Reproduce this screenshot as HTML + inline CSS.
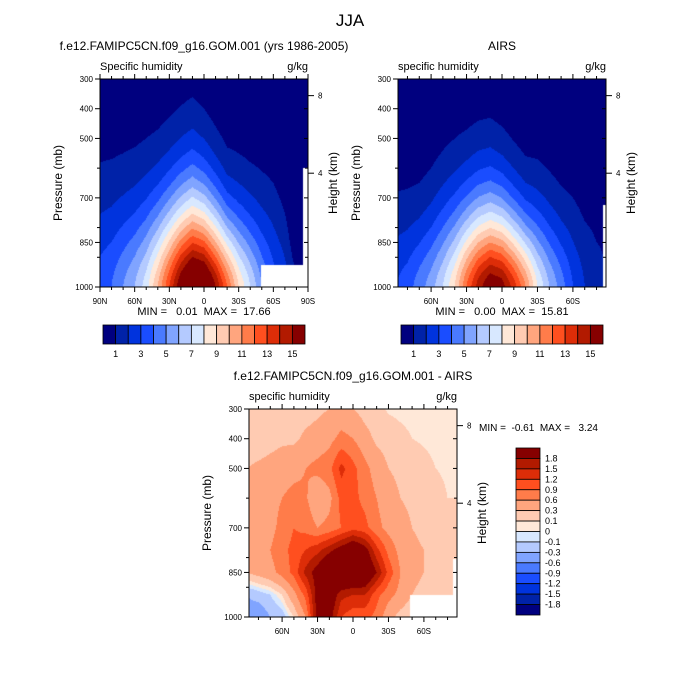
<!DOCTYPE html>
<html><head><meta charset="utf-8">
<style>
html,body{margin:0;padding:0;background:#fff;}
#root{position:relative;width:700px;height:700px;overflow:hidden;font-family:"Liberation Sans",sans-serif;}
canvas{position:absolute;left:0;top:0;}
svg{position:absolute;left:0;top:0;}
svg text{white-space:pre;}
</style></head>
<body>
<div id="root">
<canvas id="cv" width="700" height="700"></canvas>
<svg id="sv" width="700" height="700"></svg>
</div>
<script>
// ---- data ----
const colors = ["#00007f","#0022a8","#0033dd","#1a4dff","#4a7aff","#80a4ff","#b4caff","#d8e8ff","#ffe8d8","#ffcbb2","#ffa57e","#ff7c4a","#ff4f1f","#dd2d08","#b21a00","#860000"];
const topLevels = [1,2,3,4,5,6,7,8,9,10,11,12,13,14,15];
const topTickLabels = ["1","3","5","7","9","11","13","15"];
const diffLevels = [-1.8,-1.5,-1.2,-0.9,-0.6,-0.3,-0.1,0,0.1,0.3,0.6,0.9,1.2,1.5,1.8];
const diffLabels = ["1.8","1.5","1.2","0.9","0.6","0.3","0.1","0","-0.1","-0.3","-0.6","-0.9","-1.2","-1.5","-1.8"];
const lats = [90,80,70,60,50,40,30,20,10,0,-10,-20,-30,-40,-50,-60,-70,-80,-90];
const modelQ0 = [3.5,4,5,6,7.5,10,13,16,18,17.5,15,12,9,7,5,3.5,2.5,1.5,0.9];
const modelP1 = [580,570,550,530,500,470,430,390,360,400,460,530,550,580,610,650,750,950,999];
const airsQ0 = [3,3.5,4.5,5.5,7,9,12,14.5,16,15.5,13.5,11,8,6,4.5,3,2,1.3,0.9];
const airsP1 = [680,670,650,600,540,500,470,440,430,460,510,560,570,610,660,700,780,850,900];
const diffP = [300,400,500,600,700,775,850,925,1000];
const diffGrid = [
 [.15,.15,.15,.2,.2,.2,.25,.3,.35,.3,.2,.15,.08,.06,.05,.05,.05,.05,.05],
 [.15,.15,.2,.25,.25,.35,.4,.5,.7,.6,.4,.25,.2,.15,.1,.08,.06,.05,.05],
 [.3,.35,.4,.45,.5,.6,.7,.8,1.3,1.0,.7,.45,.3,.25,.2,.15,.1,.08,.08],
 [.3,.4,.5,.6,.7,.65,.3,.5,1.0,1.0,.8,.6,.4,.3,.25,.2,.15,.1,.1],
 [.3,.4,.5,.7,.9,.8,.6,.7,.9,1.1,1.0,.7,.5,.4,.3,.25,.2,.1,.1],
 [.35,.45,.6,.8,1.0,1.2,1.4,1.7,2.0,2.3,2.0,1.3,.8,.5,.35,.3,.2,.15,.1],
 [.3,.4,.5,.7,1.0,1.6,2.0,2.5,2.6,2.5,2.4,1.8,1.1,.6,.4,.3,.25,.15,.1],
 [-.3,-.2,-.1,.1,.5,1.0,2.0,2.2,1.6,1.5,1.5,1.0,.7,.5,.3,.2,.1,.1,.1],
 [-.4,-.5,-.3,-.2,.1,.6,2.0,2.0,1.2,1.0,1.0,.8,.4,.2,.1,.1,.1,.1,.1]];

// ---- functions ----
function colIdx(v,levels){let i=0;while(i<levels.length&&v>=levels[i])i++;return i;}
function hex(c){return [parseInt(c.substr(1,2),16),parseInt(c.substr(3,2),16),parseInt(c.substr(5,2),16)];}
const rgb=colors.map(hex);
function qCol(q0,p1,p){
  let f=(1000-p)/Math.max(1000-p1,1);
  let l=Math.log(q0);
  let q=Math.exp(l*(1-Math.pow(f,1.5)));
  return Math.min(q,Math.max(q0,0.5));
}
function qAt(Q0,P1,lat,p){
  let t=(90-lat)/10;let i=Math.max(0,Math.min(17,Math.floor(t)));let w=t-i;
  return qCol(Q0[i],P1[i],p)*(1-w)+qCol(Q0[i+1],P1[i+1],p)*w;
}
function dAt(lat,p){
  let t=(90-lat)/10;let i=Math.max(0,Math.min(17,Math.floor(t)));let w=t-i;
  let j=0;while(j<diffP.length-2&&p>diffP[j+1])j++;
  let u=(p-diffP[j])/(diffP[j+1]-diffP[j]);
  let a=diffGrid[j][i]*(1-w)+diffGrid[j][i+1]*w;
  let b=diffGrid[j+1][i]*(1-w)+diffGrid[j+1][i+1]*w;
  return a*(1-u)+b*u;
}
const cv=document.getElementById('cv');const ctx=cv.getContext('2d');
const img=ctx.createImageData(700,700);
for(let k=0;k<img.data.length;k+=4){img.data[k]=255;img.data[k+1]=255;img.data[k+2]=255;img.data[k+3]=255;}
function put(x,y,c){let k=(y*700+x)*4;img.data[k]=c[0];img.data[k+1]=c[1];img.data[k+2]=c[2];}
function panel(x0,y0,latMax,fn,levels,mask){
  for(let y=y0;y<y0+208;y++)for(let x=x0;x<x0+208;x++){
    if(mask(x-x0,y-y0))continue;
    let lat=latMax-(x-x0+0.5)/208*2*latMax;
    let p=300+(y-y0+0.5)/208*700;
    put(x,y,rgb[colIdx(fn(lat,p),levels)]);
  }
}
panel(100,79,90,(l,p)=>qAt(modelQ0,modelP1,l,p),topLevels,(x,y)=>(x>=161&&y>=186)||(x>=203&&y>=89));
panel(398,79,88,(l,p)=>qAt(airsQ0,airsP1,l,p),topLevels,(x,y)=>(x>=205&&y>=126));
panel(249,409,88,dAt,diffLevels,(x,y)=>(x>=161&&y>=186)||(x>=204&&y>=150));
ctx.putImageData(img,0,0);

// ---- SVG annotations ----
const sv=document.getElementById('sv');const NS='http://www.w3.org/2000/svg';
function el(t,a,txt){const e=document.createElementNS(NS,t);for(const k in a)e.setAttribute(k,a[k]);if(txt!==undefined)e.textContent=txt;sv.appendChild(e);return e;}
function text(x,y,s,size,anchor,name,rot){
  const e=el('text',{x:x,y:y,'font-size':size,'text-anchor':anchor||'start',fill:'#000'},s);
  
  
  if(rot)e.setAttribute('transform','rotate(-90 '+x+' '+y+')');
  return e;
}
function line(x1,y1,x2,y2,w){el('line',{x1,y1,x2,y2,stroke:'#000','stroke-width':w||1});}
text(350,26,'JJA',17,'middle','figure-title');
function axes(x0,y0,latMax,title,sub,mm,xlabels,name){
  el('rect',{x:x0,y:y0,width:208,height:208,fill:'none',stroke:'#000','stroke-width':1});
  text(x0+104,y0-29,title,12,'middle',name+'-title');
  text(x0,y0-9,sub,11,'start',name+'-subtitle');
  text(x0+208,y0-9,'g/kg',11,'end',name+'-units');
  const pl=[300,400,500,700,850,1000];
  pl.forEach(p=>{let y=y0+(p-300)/700*208;line(x0-5,y,x0,y);line(x0+208,y,x0+204,y);text(x0-7,y+3,String(p),8,'end',name+'-y-tick-'+p);});
  [600,800,900].forEach(p=>{let y=y0+(p-300)/700*208;line(x0-3,y,x0,y);line(x0+208,y,x0+205,y);});
  text(x0-38,y0+104,'Pressure (mb)',12,'middle',name+'-y-axis-title',true);
  [[8,356],[4,617]].forEach(h=>{let y=y0+(h[1]-300)/700*208;line(x0+208,y,x0+214,y);text(x0+218,y+3,String(h[0]),8,'start',name+'-height-tick-'+h[0]);});
  text(x0+237,y0+104,'Height (km)',12,'middle',name+'-height-axis-title',true);
  for(let l=-90;l<=90;l+=10){ if(Math.abs(l)>latMax)continue;
    let x=x0+(latMax-l)/(2*latMax)*208; let maj=(l%30===0);
    line(x,y0+208,x,y0+208+(maj?5:3));line(x,y0,x,y0-(maj?5:3));
    if(maj && xlabels){let s=l===0?'0':(Math.abs(l)+(l>0?'N':'S'));text(x,y0+225,s,8,'middle',name+'-x-tick-'+s);}
  }
  if(mm) text(x0+104,y0+236,mm,11,'middle',name+'-min-max');
}
axes(100,79,90,'f.e12.FAMIPC5CN.f09_g16.GOM.001 (yrs 1986-2005)','Specific humidity','MIN =   0.01  MAX =  17.66',true,'model-panel');
axes(398,79,88,'AIRS','specific humidity','MIN =   0.00  MAX =  15.81',true,'airs-panel');
axes(249,409,88,'f.e12.FAMIPC5CN.f09_g16.GOM.001 - AIRS','specific humidity',null,true,'diff-panel');
text(479,431,'MIN =  -0.61  MAX =   3.24',10,'start','diff-min-max');
function hbar(x0,y0,name){
  const w=202/16;
  colors.forEach((c,i)=>{const r=el('rect',{x:x0+i*w,y:y0,width:w,height:19,fill:c,stroke:'#000','stroke-width':0.8});
    
    });
  topTickLabels.forEach((s,i)=>text(x0+(2*i+1)*w,y0+32,s,9,'middle',name+'-label'));
}
hbar(103,325,'model-colorbar');hbar(401,325,'airs-colorbar');
const bh=167/16;
colors.slice().reverse().forEach((c,i)=>{const r=el('rect',{x:516,y:448+i*bh,width:24,height:bh,fill:c,stroke:'#000','stroke-width':0.8});
  
  });
diffLabels.forEach((s,i)=>text(545,448+(i+1)*bh+3,s,9,'start','diff-colorbar-label'));
</script>
</body></html>
